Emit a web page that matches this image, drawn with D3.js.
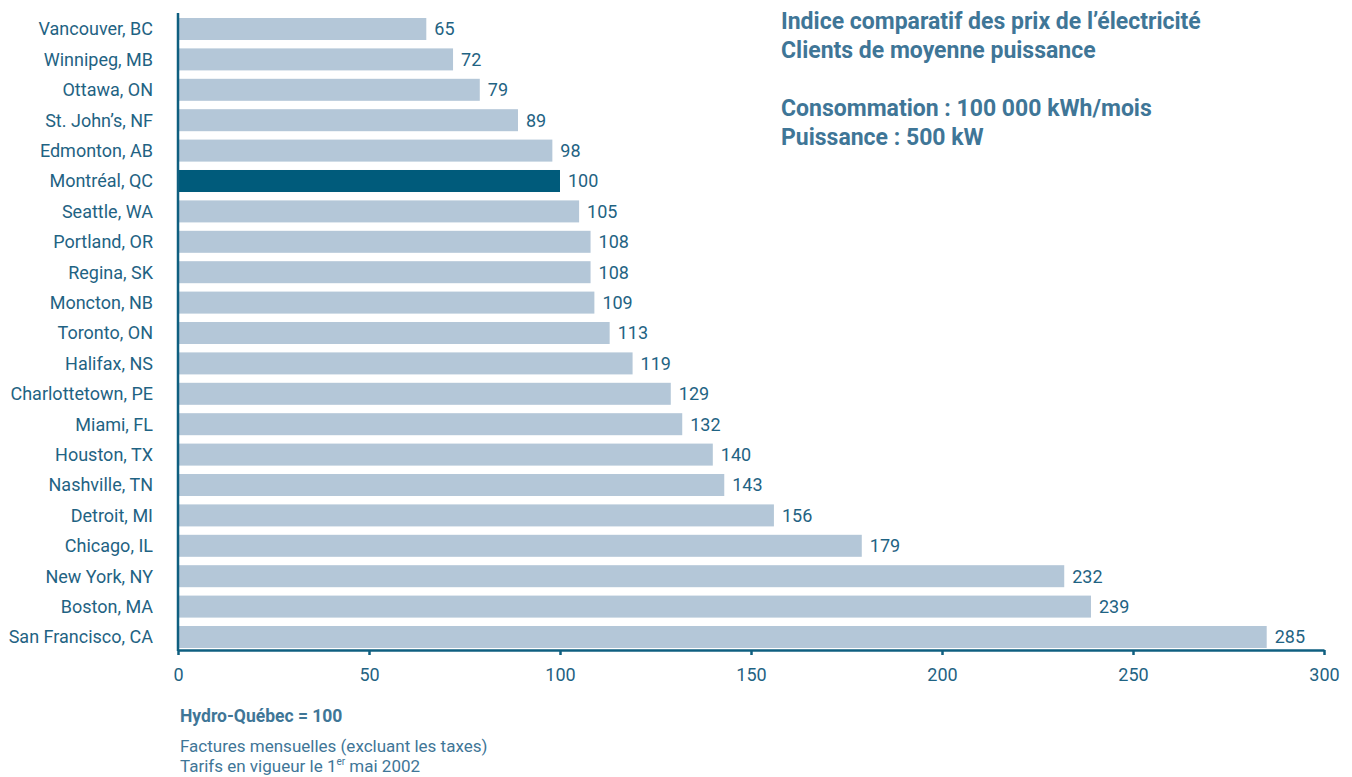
<!DOCTYPE html>
<html><head><meta charset="utf-8">
<script src="https://cdn.jsdelivr.net/npm/d3@7"></script>
<style>
body{margin:0;background:#fff;}
svg{display:block;font-family:Roboto, "Liberation Sans", sans-serif;}
</style></head>
<body><svg id="c" width="1352" height="777"></svg>
<script>
const cities = ["Vancouver, BC","Winnipeg, MB","Ottawa, ON","St. John’s, NF","Edmonton, AB","Montréal, QC","Seattle, WA","Portland, OR","Regina, SK","Moncton, NB","Toronto, ON","Halifax, NS","Charlottetown, PE","Miami, FL","Houston, TX","Nashville, TN","Detroit, MI","Chicago, IL","New York, NY","Boston, MA","San Francisco, CA"];
const values = [65,72,79,89,98,100,105,108,108,109,113,119,129,132,140,143,156,179,232,239,285];
const highlight = "Montréal, QC";
const xTicks = [0,50,100,150,200,250,300];
const titleLines = ["Indice comparatif des prix de l’électricité","Clients de moyenne puissance"];
const subLines = ["Consommation : 100 000 kWh/mois","Puissance : 500 kW"];
const noteBold = "Hydro-Québec = 100";

const svg = d3.select("#c");
const x = d3.scaleLinear().domain([0,300]).range([178,1324]);
const y = d3.scaleBand().domain(cities).range([13.8,652.2]).paddingInner(0.276).paddingOuter(0.138);
const labelCol = "#1f6383", axisCol = "#0f5f80", titleCol = "#3f7697";

svg.append("g").selectAll("rect").data(cities).join("rect")
  .attr("x", x(0)).attr("y", d=>y(d))
  .attr("width", (d,i)=>x(values[i])-x(0)).attr("height", y.bandwidth())
  .attr("fill", d=> d===highlight ? "#005b7b" : "#b4c7d8");

svg.append("g").selectAll("text").data(cities).join("text")
  .attr("x", (d,i)=>x(values[i])+8).attr("y", d=>y(d)+y.bandwidth()/2)
  .attr("dy","0.36em").attr("font-size",18).attr("fill",labelCol)
  .text((d,i)=>values[i]);

svg.append("g").selectAll("text").data(cities).join("text")
  .attr("x", 153).attr("y", d=>y(d)+y.bandwidth()/2)
  .attr("dy","0.36em").attr("text-anchor","end").attr("font-size",18).attr("fill",labelCol)
  .text(d=>d);

// axes
const gx = svg.append("g").attr("transform","translate(0,650)")
  .call(d3.axisBottom(x).tickValues(xTicks).tickSize(5).tickPadding(13).tickSizeOuter(0));
gx.select(".domain").attr("stroke",axisCol).attr("stroke-width",2.5);
gx.selectAll(".tick line").attr("stroke",axisCol).attr("stroke-width",2.5);
gx.selectAll(".tick text").attr("font-size",18).attr("fill",labelCol).attr("font-family","Roboto, sans-serif");

svg.append("line").attr("x1",x(0)).attr("x2",x(0)).attr("y1",13).attr("y2",651)
  .attr("stroke",axisCol).attr("stroke-width",2.5);

// title
const t = svg.append("g").attr("fill",titleCol).attr("font-weight","bold").attr("font-size",23);
titleLines.forEach((s,i)=>t.append("text").attr("x",781).attr("y",29+i*28.5).text(s));
subLines.forEach((s,i)=>t.append("text").attr("x",781).attr("y",116+i*29).text(s));

// notes
svg.append("text").attr("x",180).attr("y",722).attr("font-size",17.5).attr("font-weight","bold").attr("fill",titleCol).text(noteBold);
svg.append("text").attr("x",180).attr("y",752).attr("font-size",17).attr("fill",titleCol).text("Factures mensuelles (excluant les taxes)");
const n = svg.append("text").attr("x",180).attr("y",772).attr("font-size",17).attr("fill",titleCol);
n.append("tspan").text("Tarifs en vigueur le 1");
n.append("tspan").attr("font-size",10).attr("dy",-7).text("er");
n.append("tspan").attr("dy",7).text(" mai 2002");
</script></body></html>
